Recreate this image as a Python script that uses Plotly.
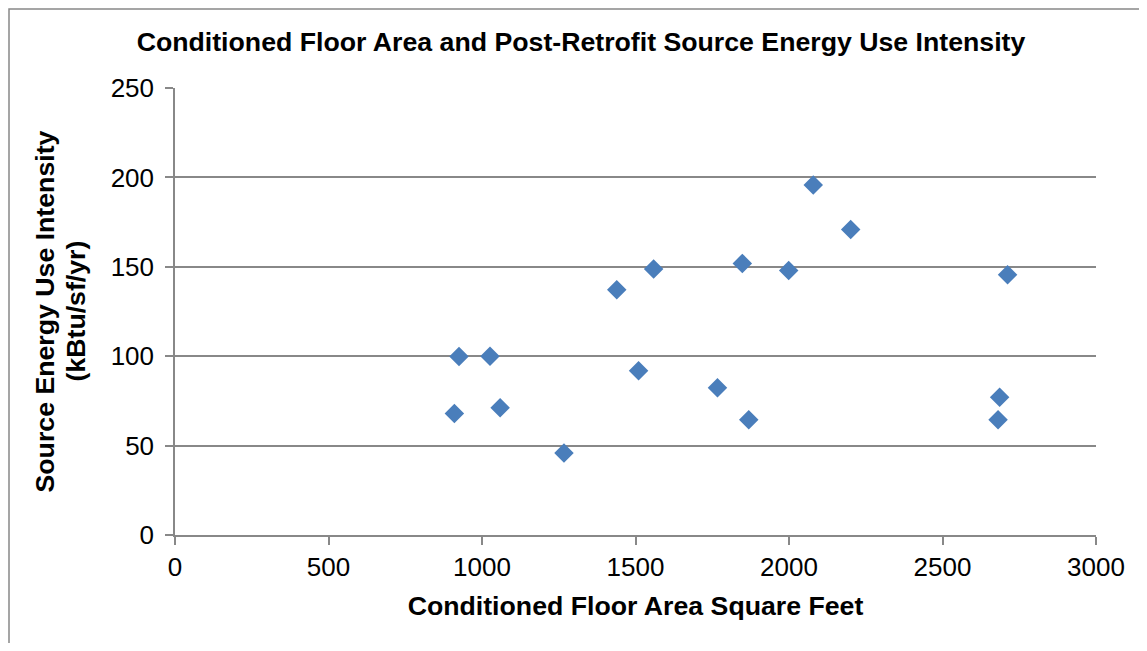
import plotly.graph_objects as go

floor_area = [925, 1026, 910, 1059, 1267, 1439, 1559, 1848, 1510, 1767, 1869, 2079, 2201, 1999, 2712, 2686, 2681]
source_eui = [99.8, 100, 67.9, 71.1, 45.9, 137.2, 148.7, 151.9, 91.8, 82.3, 64.4, 195.7, 170.9, 148.0, 145.6, 77.0, 64.4]

x_ticks = [0, 500, 1000, 1500, 2000, 2500, 3000]
y_ticks = [0, 50, 100, 150, 200, 250]

FONT = "Liberation Sans, Arial, sans-serif"
GRID = "#888888"

# page body has an 8px margin; compensate so the plot lands where the reference has it
OFF = 8
W, H = 1147 - 2 * OFF, 651 - 2 * OFF
L = 175 - OFF
T = 88 - OFF
R = W - (1096 - OFF)
B = H - (535 - OFF)
pw = W - L - R
ph = H - T - B

def px_x(p):
    return (p - L) / pw

def px_y(p):
    return (H - B - p) / ph

fig = go.Figure()
fig.add_trace(go.Scatter(
    x=floor_area, y=source_eui, mode="markers",
    marker=dict(symbol="diamond", size=15, color="#4a7ebb", line=dict(width=0)),
    showlegend=False,
))

TITLE_SIZE = 26.7
TICK_SIZE = 26

fig.update_layout(
    width=W, height=H,
    margin=dict(l=L, r=R, t=T, b=B),
    paper_bgcolor="white", plot_bgcolor="white",
    font=dict(family=FONT, size=TICK_SIZE, color="black"),
    title=dict(text="<b>Conditioned Floor Area and Post-Retrofit Source Energy Use Intensity</b>",
               x=(581 - OFF) / W, xanchor="center", y=1 - (42 - OFF) / H, yanchor="middle",
               font=dict(size=TITLE_SIZE, family=FONT, color="black")),
    xaxis=dict(range=[0, 3000], tickvals=x_ticks, ticktext=[str(v) for v in x_ticks],
               showgrid=False, zeroline=False, showline=True, linecolor=GRID, linewidth=1.5,
               ticks="outside", ticklen=8, tickcolor=GRID, tickwidth=1.5,
               tickfont=dict(size=TICK_SIZE, family=FONT),
               title=dict(text="<b>Conditioned Floor Area Square Feet</b>", standoff=15,
                          font=dict(size=TITLE_SIZE, family=FONT))),
    yaxis=dict(range=[0, 250], tickvals=y_ticks, ticktext=[str(v) for v in y_ticks],
               showgrid=True, gridcolor=GRID, gridwidth=1.5,
               zeroline=False, showline=True, linecolor=GRID, linewidth=1.5,
               ticks="outside", ticklen=8, tickcolor=GRID, tickwidth=1.5,
               ticklabelstandoff=6,
               tickfont=dict(size=TICK_SIZE, family=FONT)),
    shapes=[dict(type="rect", xref="paper", yref="paper",
                 x0=px_x(1), x1=px_x(1300), y0=px_y(800), y1=px_y(1),
                 line=dict(color=GRID, width=1.5), fillcolor="rgba(0,0,0,0)", layer="below")],
)

y_title_lines = ["Source Energy Use Intensity", "(kBtu/sf/yr)"]
y_title_centers = [44, 75]
for txt, cx in zip(y_title_lines, y_title_centers):
    fig.add_annotation(text=f"<b>{txt}</b>", xref="paper", yref="paper",
                       x=px_x(cx - OFF), y=0.5, xanchor="center", yanchor="middle",
                       textangle=-90, showarrow=False,
                       font=dict(size=TITLE_SIZE, family=FONT, color="black"))

fig.write_html("out.html")
